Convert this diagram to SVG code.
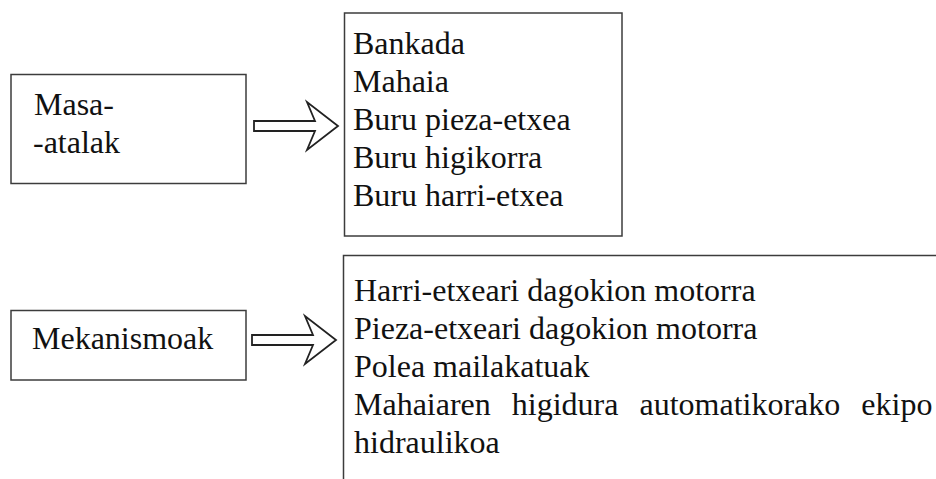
<svg xmlns="http://www.w3.org/2000/svg" width="936" height="479" viewBox="0 0 936 479">
<style>
.box{fill:#fff;stroke:#3c3c3c;stroke-width:1.5}
.t{font-family:'Liberation Serif','Times New Roman',Tinos,serif;font-size:32px;fill:#111}
.arr{fill:#fff;stroke:#222;stroke-width:1.8;stroke-linejoin:miter}
</style>
<defs>
<path id="bigArrow" d="M254,-5 L315,-5 L307,-24 L338,0 L307,24 L315,5 L254,5 Z"/>
</defs>
<rect width="936" height="479" fill="#fff"/>
<g id="connectors">
<use href="#bigArrow" class="arr" transform="translate(0,126)"/>
<use href="#bigArrow" class="arr" transform="translate(-2,340)"/>
</g>
<g id="masa-atalak">
<rect class="box" x="11" y="74.5" width="235" height="109"/>
<text class="t" x="34" y="115">Masa-</text>
<text class="t" x="33" y="153">-atalak</text>
</g>
<g id="masa-atalak-list">
<rect class="box" x="344.5" y="13" width="277.5" height="223"/>
<text class="t" x="353" y="53.5">Bankada</text>
<text class="t" x="353" y="91.5">Mahaia</text>
<text class="t" x="353" y="129.5">Buru pieza-etxea</text>
<text class="t" x="353" y="167.5">Buru higikorra</text>
<text class="t" x="353" y="205.5">Buru harri-etxea</text>
</g>
<g id="mekanismoak">
<rect class="box" x="11" y="310.5" width="235" height="69.5"/>
<text class="t" x="32" y="349">Mekanismoak</text>
</g>
<g id="mekanismoak-list">
<rect class="box" x="343.5" y="255.5" width="700" height="300"/>
<text class="t" x="354" y="300.5">Harri-etxeari dagokion motorra</text>
<text class="t" x="354" y="338.5">Pieza-etxeari dagokion motorra</text>
<text class="t" x="354" y="376.5">Polea mailakatuak</text>
<text class="t" x="354" y="414.5" word-spacing="13">Mahaiaren higidura automatikorako ekipo</text>
<text class="t" x="354" y="452.5">hidraulikoa</text>
</g>
</svg>
